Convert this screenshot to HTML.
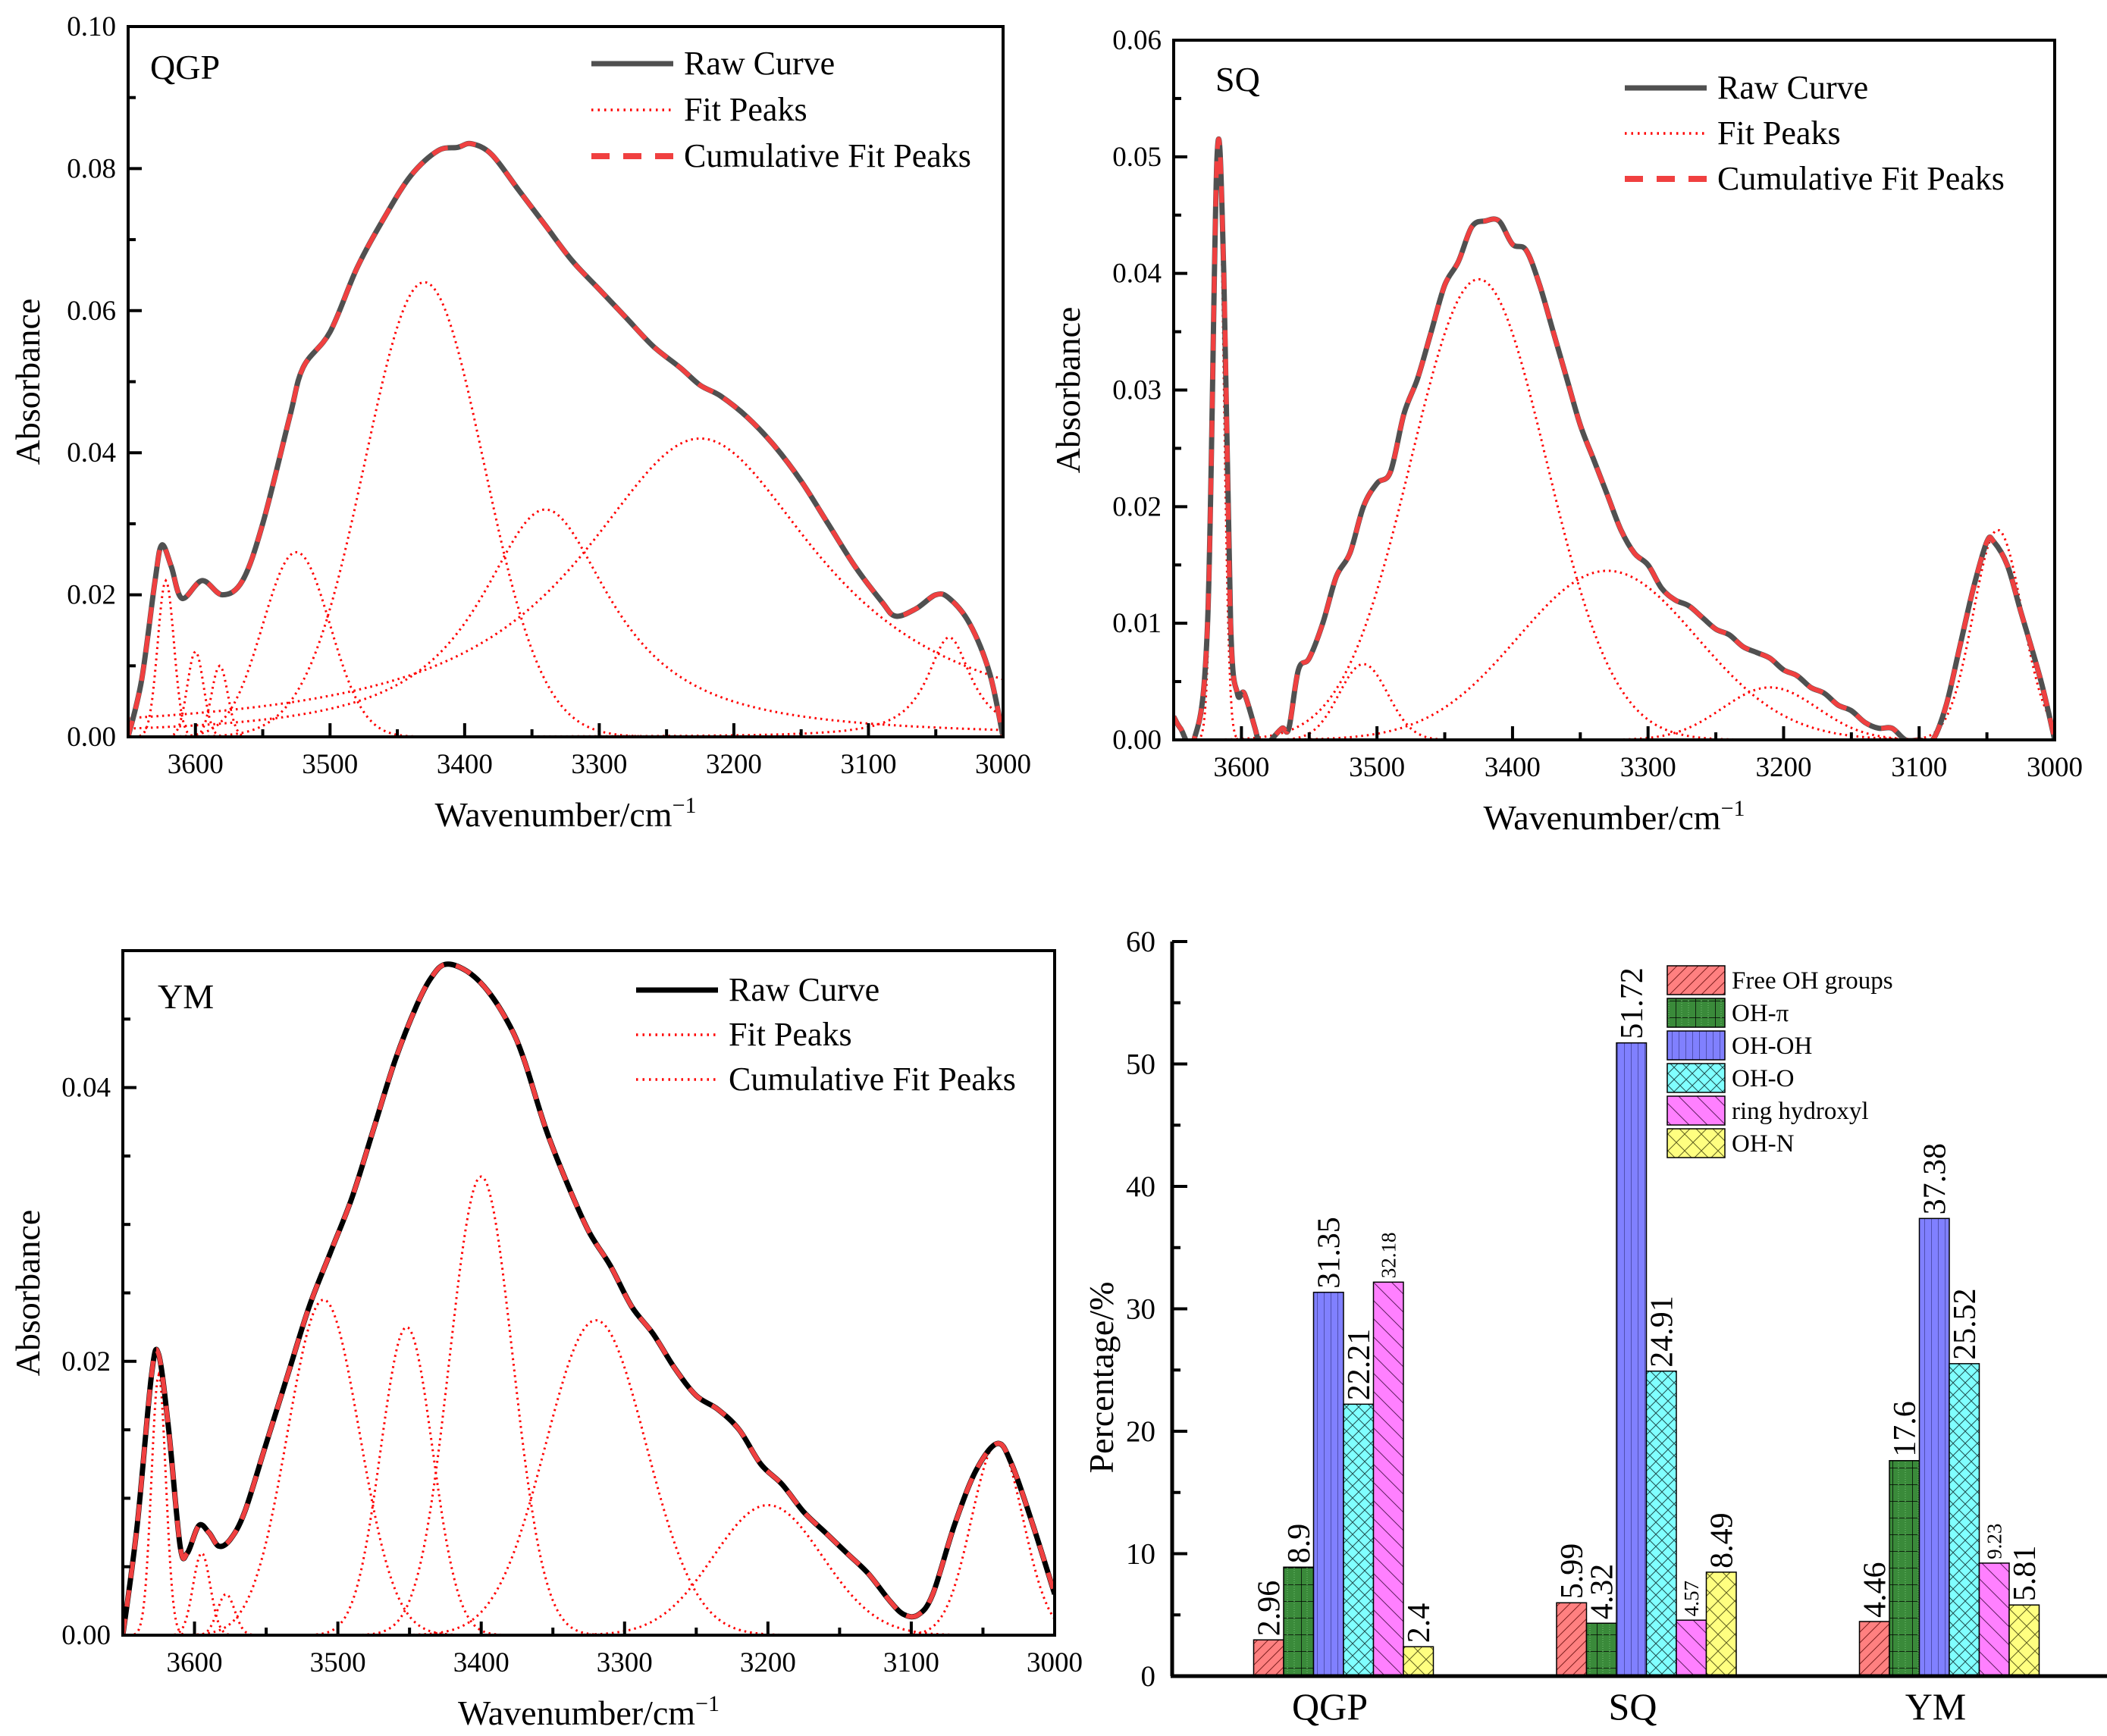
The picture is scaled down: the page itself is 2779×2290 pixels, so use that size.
<!DOCTYPE html>
<html><head><meta charset="utf-8"><style>
html,body{margin:0;padding:0;background:#fff;}
svg, svg text, text, tspan{font-family:"Liberation Serif","Times New Roman",serif !important;}
</style></head><body>
<svg id="chart" width="2779" height="2285" viewBox="0 0 2779 2285" xmlns="http://www.w3.org/2000/svg" font-family="Liberation Serif, serif">
<defs>
<pattern id="pFree" patternUnits="userSpaceOnUse" width="14" height="14"><rect width="14" height="14" fill="#ff8080"/><path d="M0,14 L14,0 M-2,2 L2,-2 M12,16 L16,12" stroke="#802020" stroke-width="1"/></pattern>
<pattern id="pPi" patternUnits="userSpaceOnUse" width="26" height="22"><rect width="26" height="22" fill="#3a8a3a"/><path d="M0,0 H26 M0,0 V22" stroke="#000" stroke-width="1.5"/><path d="M8,0 V22 M17,0 V22" stroke="#70c070" stroke-width="1" stroke-dasharray="1,2"/></pattern>
<pattern id="pOH" patternUnits="userSpaceOnUse" width="9" height="10"><rect width="9" height="10" fill="#8080ff"/><path d="M0,0 V10" stroke="#202060" stroke-width="1"/></pattern>
<pattern id="pO" patternUnits="userSpaceOnUse" width="16" height="16"><rect width="16" height="16" fill="#80ffff"/><path d="M0,0 L16,16 M16,0 L0,16" stroke="#205050" stroke-width="1"/></pattern>
<pattern id="pRing" patternUnits="userSpaceOnUse" width="24" height="24"><rect width="24" height="24" fill="#ff80ff"/><path d="M0,0 L24,24 M-2,22 L2,26 M22,-2 L26,2" stroke="#602060" stroke-width="1"/></pattern>
<pattern id="pN" patternUnits="userSpaceOnUse" width="22" height="22"><rect width="22" height="22" fill="#ffff80"/><path d="M0,0 L22,22 M22,0 L0,22" stroke="#606020" stroke-width="1"/></pattern>
<clipPath id="clipQ"><rect x="169" y="35" width="1154" height="937"/></clipPath>
<clipPath id="clipS"><rect x="1548" y="53" width="1162" height="923"/></clipPath>
<clipPath id="clipY"><rect x="162" y="1254" width="1229" height="903"/></clipPath>
</defs>
</svg>
<script>
// ---------- QGP data ----------
const qgpRawWn = [3650,3640,3630,3625,3618,3610,3595,3580,3565,3550,3530,3520,3500,3480,3460,3440,3420,3405,3395,3380,3360,3340,3320,3300,3280,3260,3240,3225,3210,3190,3170,3150,3130,3110,3090,3080,3065,3050,3040,3025,3010,3000];
const qgpRawAbs = [0.0,0.008,0.022,0.027,0.024,0.0195,0.022,0.020,0.022,0.030,0.045,0.052,0.057,0.066,0.073,0.079,0.0825,0.083,0.0835,0.082,0.077,0.072,0.067,0.063,0.059,0.055,0.052,0.0495,0.048,0.045,0.041,0.036,0.030,0.024,0.019,0.017,0.018,0.020,0.0195,0.016,0.009,0.0];
const qgpPeakCenter = [3622,3600,3582,3525,3430,3340,3225,3040];
const qgpPeakHeight = [0.022,0.012,0.010,0.026,0.064,0.032,0.042,0.014];
const qgpPeakWidth = [6,6,6,25,44,60,110,20];
const qgpPeakShape = [0,0,0,0,0,1,1,1];
// ---------- SQ data ----------
const sqRawWn = [3650,3645,3635,3625,3618,3613,3608,3603,3598,3590,3585,3578,3570,3565,3558,3550,3540,3530,3520,3510,3500,3490,3480,3470,3460,3450,3440,3430,3420,3410,3400,3390,3380,3370,3360,3350,3340,3330,3320,3310,3300,3290,3280,3270,3260,3250,3240,3230,3220,3210,3200,3190,3180,3170,3160,3150,3140,3130,3120,3110,3100,3090,3080,3070,3060,3050,3045,3035,3025,3010,3000];
const sqRawAbs = [0.002,0.001,0.0,0.01,0.05,0.04,0.01,0.004,0.004,0.001,-0.001,0.0,0.001,0.001,0.006,0.007,0.010,0.014,0.016,0.020,0.022,0.023,0.028,0.031,0.035,0.039,0.041,0.044,0.0445,0.0445,0.0425,0.042,0.039,0.035,0.031,0.027,0.024,0.021,0.018,0.016,0.015,0.013,0.012,0.0115,0.0105,0.0095,0.009,0.008,0.0075,0.007,0.006,0.0055,0.0045,0.004,0.003,0.0025,0.0015,0.001,0.001,0.0,0.0,0.0,0.003,0.008,0.013,0.017,0.017,0.015,0.011,0.005,0.0];
const sqPeakCenter = [3617,3510,3425,3330,3210,3042];
const sqPeakHeight = [0.051,0.0065,0.0395,0.0145,0.0045,0.018];
const sqPeakWidth = [4,18,50,66,35,18];
const sqPeakShape = [0,0,0,0,0,0];
// ---------- YM data ----------
const ymRawWn = [3650,3640,3630,3625,3618,3610,3605,3597,3590,3583,3575,3565,3550,3535,3520,3505,3490,3475,3460,3445,3435,3425,3410,3395,3380,3370,3355,3340,3325,3310,3295,3280,3265,3250,3235,3220,3205,3190,3175,3160,3145,3130,3115,3105,3095,3085,3070,3055,3040,3030,3015,3000];
const ymRawAbs = [0.0,0.008,0.019,0.0205,0.015,0.0065,0.006,0.008,0.0075,0.0065,0.007,0.009,0.014,0.019,0.024,0.028,0.032,0.037,0.042,0.046,0.048,0.049,0.0485,0.047,0.0445,0.042,0.037,0.033,0.0295,0.027,0.024,0.022,0.0195,0.0175,0.0165,0.015,0.0125,0.011,0.009,0.0075,0.006,0.0045,0.0025,0.0015,0.0015,0.003,0.008,0.012,0.014,0.0125,0.008,0.003];
const ymPeakCenter = [3625,3595,3578,3510,3452,3400,3320,3200,3040];
const ymPeakHeight = [0.019,0.006,0.003,0.0245,0.0225,0.0335,0.023,0.0095,0.014];
const ymPeakWidth = [5,6,6,25,18,22,35,38,18];
const ymPeakShape = [0,0,0,0,0,0,0,0,0];
// ---------- Bar data ----------
const barCategories = ["QGP","SQ","YM"];
const barSeriesNames = ["Free OH groups","OH-\u03c0","OH-OH","OH-O","ring hydroxyl","OH-N"];
const freeOH = [2.96,5.99,4.46];
const ohPi = [8.9,4.32,17.6];
const ohOH = [31.35,51.72,37.38];
const ohO = [22.21,24.91,25.52];
const ringHydroxyl = [32.18,4.57,9.23];
const ohN = [2.4,8.49,5.81];
const barTicks = [0,10,20,30,40,50,60];
const wnTicks = [3600,3500,3400,3300,3200,3100,3000];

const NS="http://www.w3.org/2000/svg";
const FONT='"Liberation Serif", serif';
const svg=document.getElementById('chart');
function mk(tag,attrs,parent){const e=document.createElementNS(NS,tag);for(const k in attrs)e.setAttribute(k,attrs[k]);(parent||svg).appendChild(e);return e;}
function txt(s,attrs,parent){attrs['font-family']=FONT;const e=mk('text',attrs,parent);e.textContent=s;return e;}

function peakVal(w,c,h,s,shape){const d=w-c;return shape? h/(1+(d/s)*(d/s)) : h*Math.exp(-d*d/(2*s*s));}
function smoothPath(pts){
  let d='M'+pts[0][0].toFixed(1)+','+pts[0][1].toFixed(1);
  for(let i=0;i<pts.length-1;i++){
    const p0=pts[Math.max(0,i-1)],p1=pts[i],p2=pts[i+1],p3=pts[Math.min(pts.length-1,i+2)];
    const c1x=p1[0]+(p2[0]-p0[0])/6,c1y=p1[1]+(p2[1]-p0[1])/6;
    const c2x=p2[0]-(p3[0]-p1[0])/6,c2y=p2[1]-(p3[1]-p1[1])/6;
    d+='C'+c1x.toFixed(1)+','+c1y.toFixed(1)+' '+c2x.toFixed(1)+','+c2y.toFixed(1)+' '+p2[0].toFixed(1)+','+p2[1].toFixed(1);
  }
  return d;
}

function spectrum(cfg){
  const g=mk('g',{});
  
  
  const X=w=>cfg.x0+(3650-w)/650*(cfg.x1-cfg.x0);
  const Y=v=>cfg.y1-v/cfg.ymax*(cfg.y1-cfg.y0);
  const plot=mk('g',{'clip-path':'url(#'+cfg.clip+')'},g);
  for(let i=0;i<cfg.pc.length;i++){
    let d='';
    for(let w=3650;w>=3000;w-=1){const v=peakVal(w,cfg.pc[i],cfg.ph[i],cfg.pw[i],cfg.ps[i]);d+=(d?'L':'M')+X(w).toFixed(1)+','+Y(v).toFixed(1);}
    const p=mk('path',{d:d,fill:'none',stroke:'#ff0000','stroke-width':3,'stroke-dasharray':'2.5,5'},plot);
    
    
  }
  const pts=cfg.wn.map((w,i)=>[X(w),Y(cfg.ab[i])]);
  const d=smoothPath(pts);
  const raw=mk('path',{d:d,fill:'none',stroke:cfg.rawColor,'stroke-width':7,'stroke-linejoin':'round'},plot);
  
  
  const cum=mk('path',{d:d,fill:'none',stroke:'#f04040','stroke-width':6,'stroke-dasharray':'22,16'},plot);
  
  
  const fr=mk('rect',{x:cfg.x0,y:cfg.y0,width:cfg.x1-cfg.x0,height:cfg.y1-cfg.y0,fill:'none',stroke:'#000','stroke-width':4},g);
  
  
  for(let w=3650;w>=3000;w-=50){const x=X(w);const major=(w%100===0);mk('line',{x1:x,x2:x,y1:cfg.y1,y2:cfg.y1-(major?18:10),stroke:'#000','stroke-width':4},g);}
  wnTicks.forEach(w=>{const t=txt(String(w),{x:X(w),y:cfg.y1+48,'font-size':37,'text-anchor':'middle'},g);});
  for(let k=0;k<=Math.round(cfg.ymax/cfg.minor);k++){const v=k*cfg.minor;const y=Y(v);const major=(k%cfg.majorEvery===0);mk('line',{x1:cfg.x0,x2:cfg.x0+(major?18:10),y1:y,y2:y,stroke:'#000','stroke-width':4},g);
    if(major){const t=txt(v.toFixed(2),{x:cfg.x0-16,y:y+12,'font-size':37,'text-anchor':'end'},g);}}
  const xt=txt('',{x:(cfg.x0+cfg.x1)/2,y:cfg.y1+118,'font-size':46,'text-anchor':'middle'},g);
  xt.innerHTML='Wavenumber/cm<tspan dy="-18" font-size="30">\u22121</tspan>';
  
  const yt=txt('Absorbance',{x:0,y:0,'font-size':46,'text-anchor':'middle',transform:'translate('+cfg.ytx+','+((cfg.y0+cfg.y1)/2)+') rotate(-90)'},g);
  
  const lb=txt(cfg.name.toUpperCase(),{x:cfg.lx,y:cfg.ly,'font-size':46},g);
  
  const lg=mk('g',{},g);
  const names=['Raw Curve','Fit Peaks','Cumulative Fit Peaks'];
  for(let i=0;i<3;i++){const y=cfg.legY+i*cfg.legStep;
    let st;
    if(i===0) st={stroke:cfg.rawColor,'stroke-width':7};
    else if(i===1||cfg.legDot3) st={stroke:'#ff0000','stroke-width':3.5,'stroke-dasharray':'2.5,6'};
    else st={stroke:'#f04040','stroke-width':8,'stroke-dasharray':'24,18'};
    mk('line',Object.assign({x1:cfg.legX,x2:cfg.legX+108,y1:y,y2:y},st),lg);
    const t=txt(names[i],{x:cfg.legX+122,y:y+14,'font-size':44},lg);
    }
}
spectrum({name:'qgp',x0:169,x1:1323,y0:35,y1:972,ymax:0.10,minor:0.01,majorEvery:2,clip:'clipQ',wn:qgpRawWn,ab:qgpRawAbs,pc:qgpPeakCenter,ph:qgpPeakHeight,pw:qgpPeakWidth,ps:qgpPeakShape,rawColor:'#505050',ytx:52,lx:198,ly:104,legX:780,legY:84,legStep:61});
spectrum({name:'sq',x0:1548,x1:2710,y0:53,y1:976,ymax:0.06,minor:0.005,majorEvery:2,clip:'clipS',wn:sqRawWn,ab:sqRawAbs,pc:sqPeakCenter,ph:sqPeakHeight,pw:sqPeakWidth,ps:sqPeakShape,rawColor:'#505050',ytx:1424,lx:1603,ly:120,legX:2143,legY:116,legStep:60});
spectrum({name:'ym',x0:162,x1:1391,y0:1254,y1:2157,ymax:0.05,minor:0.005,majorEvery:4,clip:'clipY',wn:ymRawWn,ab:ymRawAbs,pc:ymPeakCenter,ph:ymPeakHeight,pw:ymPeakWidth,ps:ymPeakShape,rawColor:'#000000',ytx:52,lx:208,ly:1330,legX:839,legY:1306,legStep:59,legDot3:true});

(function(){
  const g=mk('g',{});
  const x0=1546,y1=2211,y0=1242,ymax=60;
  const Y=v=>y1-v/ymax*(y1-y0);
  const CX=i=>1772+i*399.5;
  const bw=39.5;
  const series=[freeOH,ohPi,ohOH,ohO,ringHydroxyl,ohN];
  const pats=['pFree','pPi','pOH','pO','pRing','pN'];
  const small=[[0,4],[1,4],[2,4]];
  series.forEach((arr,s)=>{arr.forEach((v,i)=>{
    const x=CX(i)+(s-3)*bw;
    const r=mk('rect',{x:x,y:Y(v),width:bw,height:y1-Y(v),fill:'url(#'+pats[s]+')',stroke:'#000','stroke-width':1.5},g);
    
    
    const isSmall=small.some(p=>p[0]===i&&p[1]===s);
    const t=txt(String(v),{x:0,y:0,'font-size':isSmall?27:42,transform:'translate('+(x+bw/2+(isSmall?9:14))+','+(Y(v)-5)+') rotate(-90)'},g);
    
  });});
  mk('line',{x1:x0,x2:x0,y1:y0,y2:y1,stroke:'#000','stroke-width':5},g);
  mk('line',{x1:x0-2,x2:2779,y1:y1,y2:y1,stroke:'#000','stroke-width':5},g);
  for(let v=0;v<=60;v+=5){const y=Y(v);mk('line',{x1:x0,x2:x0+(v%10===0?20:11),y1:y,y2:y,stroke:'#000','stroke-width':4},g);}
  barTicks.forEach(v=>{const t=txt(String(v),{x:x0-22,y:Y(v)+13,'font-size':39,'text-anchor':'end'},g);});
  barCategories.forEach((c,i)=>{const t=txt(c,{x:CX(i)-18,y:2268,'font-size':50,'text-anchor':'middle'},g);});
  const yt=txt('Percentage/%',{x:0,y:0,'font-size':46,'text-anchor':'middle',transform:'translate(1468,1817) rotate(-90)'},g);
  
  const lg=mk('g',{},g);
  barSeriesNames.forEach((n,s)=>{const y=1274+s*43;
    mk('rect',{x:2199,y:y,width:76,height:38,fill:'url(#'+pats[s]+')',stroke:'#000','stroke-width':1.5},lg);
    const t=txt(n,{x:2284,y:y+30,'font-size':33},lg);});
})();
</script>
</body></html>
